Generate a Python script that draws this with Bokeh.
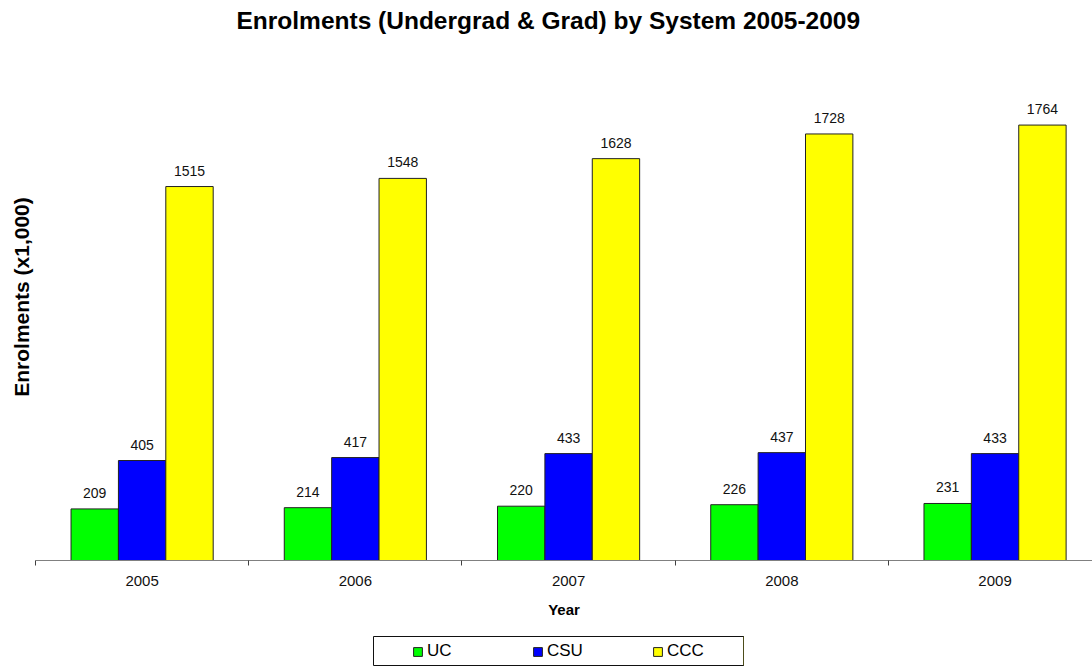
from bokeh.plotting import figure
from bokeh.models import (ColumnDataSource, Range1d, FixedTicker, LabelSet,
                          Legend, LegendItem, Spacer)
from bokeh.layouts import column, row
from bokeh.core.properties import value
from bokeh.transform import dodge
from bokeh.embed import file_html
from bokeh.resources import INLINE

years = ["2005", "2006", "2007", "2008", "2009"]
uc = [209, 214, 220, 226, 231]
csu = [405, 417, 433, 437, 433]
ccc = [1515, 1548, 1628, 1728, 1764]
series_names = ["UC", "CSU", "CCC"]
series_colors = ["#00FF00", "#0000FF", "#FFFF00"]
title_text = "Enrolments (Undergrad & Grad) by System 2005-2009"
x_title = "Year"
y_title = "Enrolments (x1,000)"

FONT = "Liberation Sans"
centers = [i + 0.5 for i in range(len(years))]
bar_w = 0.2222

src = ColumnDataSource(dict(x=centers, years=years, UC=uc, CSU=csu, CCC=ccc,
                            UC_t=[str(v) for v in uc],
                            CSU_t=[str(v) for v in csu],
                            CCC_t=[str(v) for v in ccc]))

p = figure(width=1092, height=635, output_backend="svg", toolbar_location=None,
           x_range=Range1d(0, 4.957), y_range=Range1d(0, 2135),
           min_border_left=35, min_border_right=0, min_border_top=33,
           min_border_bottom=75)
p.background_fill_color = "white"
p.border_fill_color = "white"
p.outline_line_color = None
p.grid.visible = False

p.title.text = title_text
p.title.text_font = FONT
p.title.text_font_size = "24.5px"
p.title.text_font_style = "bold"
p.title.text_color = "black"
p.title.align = "left"
p.title.offset = 201
p.title.standoff = 0

offsets = [-bar_w, 0.0, bar_w]
for name, col, off in zip(series_names, series_colors, offsets):
    p.vbar(x=dodge("x", off, range=p.x_range), top=name, width=bar_w,
           source=src, fill_color=col, line_color="#222222", line_width=1)
    p.add_layout(LabelSet(x=dodge("x", off, range=p.x_range), y=name, text=name + "_t",
                          source=src, text_align="center", text_baseline="alphabetic",
                          y_offset=11, text_font=value(FONT), text_font_size="14px",
                          text_color="#111111"))

# x axis
xa = p.xaxis[0]
xa.ticker = FixedTicker(ticks=centers, minor_ticks=list(range(len(years) + 1)))
xa.major_label_overrides = {c: y for c, y in zip(centers, years)}
xa.major_tick_out = 0
xa.major_tick_in = 0
xa.minor_tick_out = 5
xa.minor_tick_in = 0
xa.axis_line_color = "#808080"
xa.minor_tick_line_color = "#404040"
xa.major_label_standoff = 10
xa.major_label_text_font = FONT
xa.major_label_text_font_size = "15px"
xa.major_label_text_color = "#111111"
xa.axis_label = x_title
xa.axis_label_text_font = FONT
xa.axis_label_text_font_size = "15px"
xa.axis_label_text_font_style = "bold"
xa.axis_label_text_color = "black"
xa.axis_label_standoff = 12

# y axis (title only)
ya = p.yaxis[0]
ya.ticker = FixedTicker(ticks=[])
ya.axis_line_color = None
ya.major_tick_out = 0
ya.major_tick_in = 0
ya.minor_tick_out = 0
ya.minor_tick_in = 0
ya.major_label_standoff = 0
ya.axis_label = y_title
ya.axis_label_text_font = FONT
ya.axis_label_text_font_size = "21px"
ya.axis_label_text_font_style = "bold"
ya.axis_label_text_color = "black"
ya.axis_label_standoff = 3

# legend in its own small boxed figure below the chart; the series renderers
# here use the same data but lie outside this little figure's view
leg = figure(width=372, height=31, output_backend="svg", toolbar_location=None,
             x_range=Range1d(-3, -2), y_range=Range1d(0, 1),
             x_axis_location=None, y_axis_location=None,
             min_border_left=1, min_border_right=1, min_border_top=1,
             min_border_bottom=1)
leg.grid.visible = False
leg.outline_line_color = "#111111"
leg.outline_line_width = 1
leg.background_fill_color = "white"
leg.border_fill_color = "white"
proxies = [leg.vbar(x="x", top=name, width=bar_w, source=src,
                    fill_color=c, line_color="#222222")
           for name, c in zip(series_names, series_colors)]
legend = Legend(items=[LegendItem(label=n, renderers=[r]) for n, r in zip(series_names, proxies)],
                orientation="horizontal", location=(39, 4),
                glyph_width=11, glyph_height=11, label_standoff=4,
                label_width=50, label_height=14, spacing=55, padding=0, margin=0,
                label_text_font=FONT, label_text_font_size="17px",
                label_text_color="black", border_line_color=None,
                background_fill_alpha=0)
leg.add_layout(legend, "center")

layout = column(p, row(Spacer(width=372, height=31), leg))
open("out.html", "w").write(file_html(layout, INLINE))
